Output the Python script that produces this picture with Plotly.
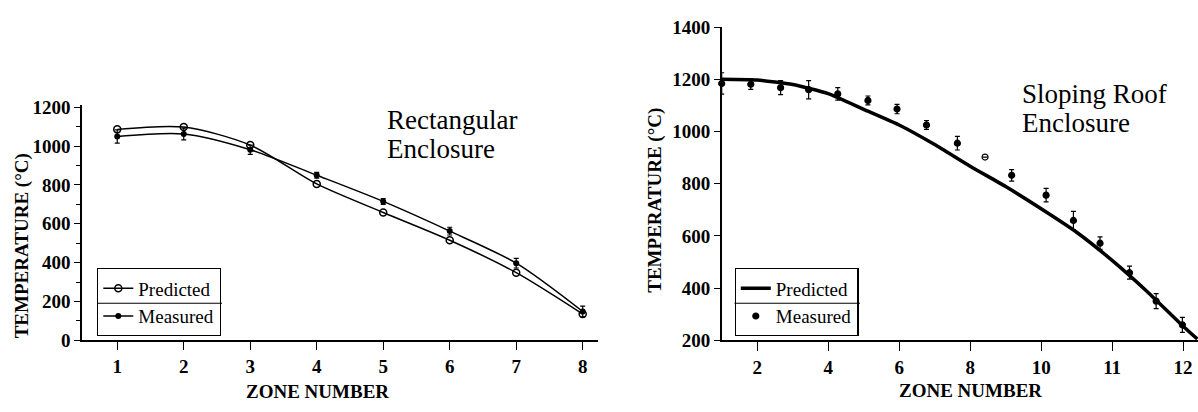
import plotly.graph_objects as go

# ---- Rectangular enclosure (left panel) ----
rect_zone = [1, 2, 3, 4, 5, 6, 7, 8]
rect_predicted = [1086, 1098, 1005, 805, 658, 515, 348, 135]
rect_measured = [1049, 1062, 981, 850, 715, 562, 397, 148]
rect_measured_err = [34, 30, 24, 15, 15, 20, 25, 28]
rect_y_ticks = [0, 200, 400, 600, 800, 1000, 1200]

# ---- Sloping roof enclosure (right panel) ----
roof_pred_pos = [1, 2, 3, 4, 5, 6, 7, 8, 9, 10, 11, 12, 13, 14, 14.4]
roof_predicted = [1200, 1197, 1180, 1145, 1085, 1025, 950, 867, 789, 704, 614, 506, 385, 254, 205]
roof_meas_pos = [1.0, 1.82, 2.66, 3.45, 4.27, 5.12, 5.94, 6.77, 7.64, 8.42,
                 9.17, 10.14, 10.91, 11.66, 12.49, 13.24, 13.98]
roof_measured = [1184, 1181, 1168, 1160, 1144, 1119, 1086, 1025, 955, 902,
                 832, 756, 659, 572, 459, 350, 259]
roof_measured_err = [41, 20, 27, 35, 24, 17, 18, 17, 26, 0,
                     22, 26, 35, 24, 25, 29, 29]
roof_symbols = ["circle"] * 9 + ["circle-open"] + ["circle"] * 7
roof_tick_pos = [2, 4, 6, 8, 10, 12, 14]
roof_tick_text = ["2", "4", "6", "8", "10", "11", "12"]
roof_y_ticks = [200, 400, 600, 800, 1000, 1200, 1400]

SERIF = "Liberation Serif, Times New Roman, serif"
W, H = 1198, 412


def px(x):
    return x / W


def py(y):
    return 1 - y / H


fig = go.Figure()

fig.add_trace(go.Scatter(
    x=rect_zone, y=rect_predicted, name="Predicted", mode="lines+markers",
    line=dict(color="black", width=1.5, shape="spline", smoothing=0.8),
    marker=dict(symbol="circle-open", size=7, color="black", line=dict(width=1.5)),
    xaxis="x", yaxis="y", legend="legend", cliponaxis=False,
))
fig.add_trace(go.Scatter(
    x=rect_zone, y=rect_measured, name="Measured", mode="lines+markers",
    line=dict(color="black", width=1.5, shape="spline", smoothing=0.8),
    marker=dict(symbol="circle", size=6, color="black"),
    error_y=dict(type="data", array=rect_measured_err, color="black", thickness=1.2, width=2.5),
    xaxis="x", yaxis="y", legend="legend", cliponaxis=False,
))

fig.add_trace(go.Scatter(
    x=roof_pred_pos, y=roof_predicted, name="Predicted", mode="lines",
    line=dict(color="black", width=3.5, shape="spline", smoothing=0.5),
    xaxis="x2", yaxis="y2", legend="legend2", cliponaxis=False,
))
fig.add_trace(go.Scatter(
    x=roof_meas_pos, y=roof_measured, name="Measured", mode="markers",
    marker=dict(symbol=roof_symbols, size=6, color="black", line=dict(width=1.2, color="black")),
    error_y=dict(type="data", array=roof_measured_err, color="black", thickness=1.2, width=2.5),
    xaxis="x2", yaxis="y2", legend="legend2", cliponaxis=False,
))

tick_font = dict(family=SERIF, size=19, color="black", weight="bold")
axis_common = dict(showline=True, linecolor="black", linewidth=1.5, showgrid=False,
                   zeroline=False, ticks="outside", tickcolor="black", tickwidth=1.3,
                   tickfont=tick_font)

legend_common = dict(bgcolor="rgba(0,0,0,0)", bordercolor="black", borderwidth=1.3,
                     font=dict(family=SERIF, size=19, color="black"),
                     xanchor="left", yanchor="top", tracegroupgap=0,
                     itemsizing="trace")

fig.update_layout(
    width=W, height=H,
    margin=dict(l=0, r=0, t=0, b=0),
    paper_bgcolor="white", plot_bgcolor="white",
    showlegend=True,
    xaxis=dict(domain=[px(82), px(598)], range=[0.47, 8.23], tickvals=rect_zone,
               ticklen=8, anchor="y", **axis_common),
    yaxis=dict(domain=[py(348), py(100)], range=[0, 1212], tickvals=rect_y_ticks,
               ticklen=6, anchor="x",
               minor=dict(dtick=100, ticks="outside", ticklen=4, tickcolor="black"),
               **axis_common),
    xaxis2=dict(domain=[px(721.7), 1.0], range=[1.0, 14.42], tickvals=roof_tick_pos,
                ticktext=roof_tick_text, ticklen=9, anchor="y2", **axis_common),
    yaxis2=dict(domain=[py(348), py(18)], range=[200, 1400], tickvals=roof_y_ticks,
                ticklen=6, anchor="x2", **axis_common),
    legend=dict(x=px(97), y=py(272), **legend_common),
    legend2=dict(x=px(734.5), y=py(272), **legend_common),
)

title_font = dict(family=SERIF, size=19, color="black", weight="bold")
text_font = dict(family=SERIF, size=27, color="black")

annotations = [
    dict(text="TEMPERATURE (°C)", x=px(22), y=py(249), textangle=-90, font=title_font),
    dict(text="TEMPERATURE (°C)", x=px(655), y=py(201), textangle=-90, font=title_font),
    dict(text="ZONE NUMBER", x=px(317), y=py(402), font=title_font),
    dict(text="ZONE NUMBER", x=px(970), y=py(401), font=title_font),
    dict(text="Rectangular", x=px(385), y=py(116), xanchor="left", font=text_font),
    dict(text="Enclosure", x=px(385), y=py(146), xanchor="left", font=text_font),
    dict(text="Sloping Roof", x=px(1020), y=py(89), xanchor="left", font=text_font),
    dict(text="Enclosure", x=px(1020), y=py(119), xanchor="left", font=text_font),
]
for a in annotations:
    a.setdefault("xanchor", "center")
    a.update(xref="paper", yref="paper", yanchor="middle", showarrow=False)
fig.update_layout(annotations=annotations)

# divider lines between the two legend rows
for x0, x1 in [(97, 222), (734.5, 860)]:
    fig.add_shape(type="line", xref="paper", yref="paper",
                  x0=px(x0), x1=px(x1), y0=py(309), y1=py(309),
                  line=dict(color="black", width=1.2))

fig.write_html("out.html")
